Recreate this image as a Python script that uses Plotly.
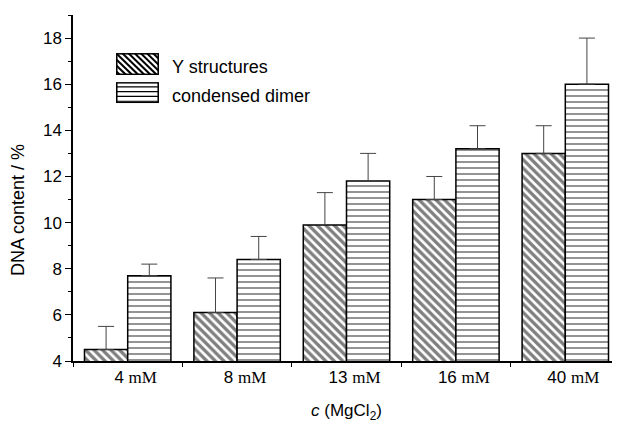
import base64
import plotly.graph_objects as go

categories = ["4 mM", "8 mM", "13 mM", "16 mM", "40 mM"]
numbers = ["4", "8", "13", "16", "40"]
tick_text = [f"{n} <span style='font-family:Liberation Serif'>mM</span>" for n in numbers]
y_struct = [4.5, 6.1, 9.9, 11.0, 13.0]
y_struct_err = [1.0, 1.5, 1.4, 1.0, 1.2]
dimer = [7.7, 8.4, 11.8, 13.2, 16.0]
dimer_err = [0.5, 1.0, 1.2, 1.0, 2.0]
series_names = ["Y structures", "condensed dimer"]

font = "Liberation Sans, Arial, sans-serif"


def swatch(kind):
    if kind == "diag":
        lines = "".join(
            f"<line x1='{x}' y1='0' x2='{x+22}' y2='22' stroke='black' stroke-width='2'/>"
            for x in range(-24, 46, 6))
    else:
        lines = "".join(
            f"<line x1='0' y1='{y}' x2='42' y2='{y}' stroke='black' stroke-width='1.2'/>"
            for y in range(5, 21, 5))
    svg = (f"<svg xmlns='http://www.w3.org/2000/svg' width='42' height='22' viewBox='0 0 42 22'>"
           f"<rect x='0' y='0' width='42' height='22' fill='white'/>{lines}"
           f"<rect x='0.75' y='0.75' width='40.5' height='20.5' fill='none' stroke='black' stroke-width='1.5'/></svg>")
    return "data:image/svg+xml;base64," + base64.b64encode(svg.encode()).decode()


fig = go.Figure()
fig.add_trace(go.Bar(
    x=categories, y=y_struct, name=series_names[0],
    marker=dict(color="white", line=dict(color="black", width=1.5),
                pattern=dict(shape="\\", fgcolor="black", bgcolor="white", size=6, solidity=0.55)),
    error_y=dict(type="data", array=y_struct_err, arrayminus=[0]*5, symmetric=False,
                 color="#444", thickness=1, width=8),
))
fig.add_trace(go.Bar(
    x=categories, y=dimer, name=series_names[1],
    marker=dict(color="white", line=dict(color="black", width=1.5),
                pattern=dict(shape="-", fgcolor="black", bgcolor="white", size=6, solidity=0.28)),
    error_y=dict(type="data", array=dimer_err, arrayminus=[0]*5, symmetric=False,
                 color="#444", thickness=1, width=8),
))

fig.update_layout(
    width=620, height=426,
    margin=dict(l=65, r=8, t=7, b=73),
    paper_bgcolor="white", plot_bgcolor="white",
    barmode="group", bargap=0.21, bargroupgap=0,
    font=dict(family=font, size=17, color="black"),
    showlegend=False,
    images=[
        dict(source=swatch("diag"), xref="paper", yref="paper", x=0.0786, y=0.890,
             sizex=0.0786, sizey=0.0636, sizing="stretch", xanchor="left", yanchor="top", layer="above"),
        dict(source=swatch("horiz"), xref="paper", yref="paper", x=0.0786, y=0.806,
             sizex=0.0786, sizey=0.0607, sizing="stretch", xanchor="left", yanchor="top", layer="above"),
    ],
    annotations=[
        dict(text=series_names[0], xref="paper", yref="paper", x=0.1773, y=0.8497,
             xanchor="left", yanchor="middle", showarrow=False, font=dict(size=18)),
        dict(text=series_names[1], xref="paper", yref="paper", x=0.1773, y=0.766,
             xanchor="left", yanchor="middle", showarrow=False, font=dict(size=18)),
        dict(text="DNA content / %", xref="paper", yref="paper", x=-0.1005, y=0.4364,
             xanchor="center", yanchor="middle", textangle=-90, showarrow=False, font=dict(size=18)),
    ],
    xaxis=dict(
        range=[-0.5, 4.5], showline=True, linecolor="black", linewidth=1.5,
        tickmode="array", tickvals=categories, ticktext=tick_text,
        tickson="boundaries", ticks="outside", ticklen=4, tickcolor="black",
        tickfont=dict(size=17, family=font), ticklabelshift=8,
        showgrid=False, zeroline=False,
        title=dict(text="<i>c</i> (MgCl<sub>2</sub>)", font=dict(size=17), standoff=18),
    ),
    yaxis=dict(
        range=[4, 19], showline=True, linecolor="black", linewidth=1.5,
        tickmode="linear", tick0=4, dtick=2, ticks="outside", ticklen=6,
        tickcolor="black", tickfont=dict(size=17), showgrid=False, zeroline=False,
        minor=dict(dtick=1, ticks="outside", ticklen=3, tickcolor="black", showgrid=False),
    ),
)

fig.write_html("out.html")
